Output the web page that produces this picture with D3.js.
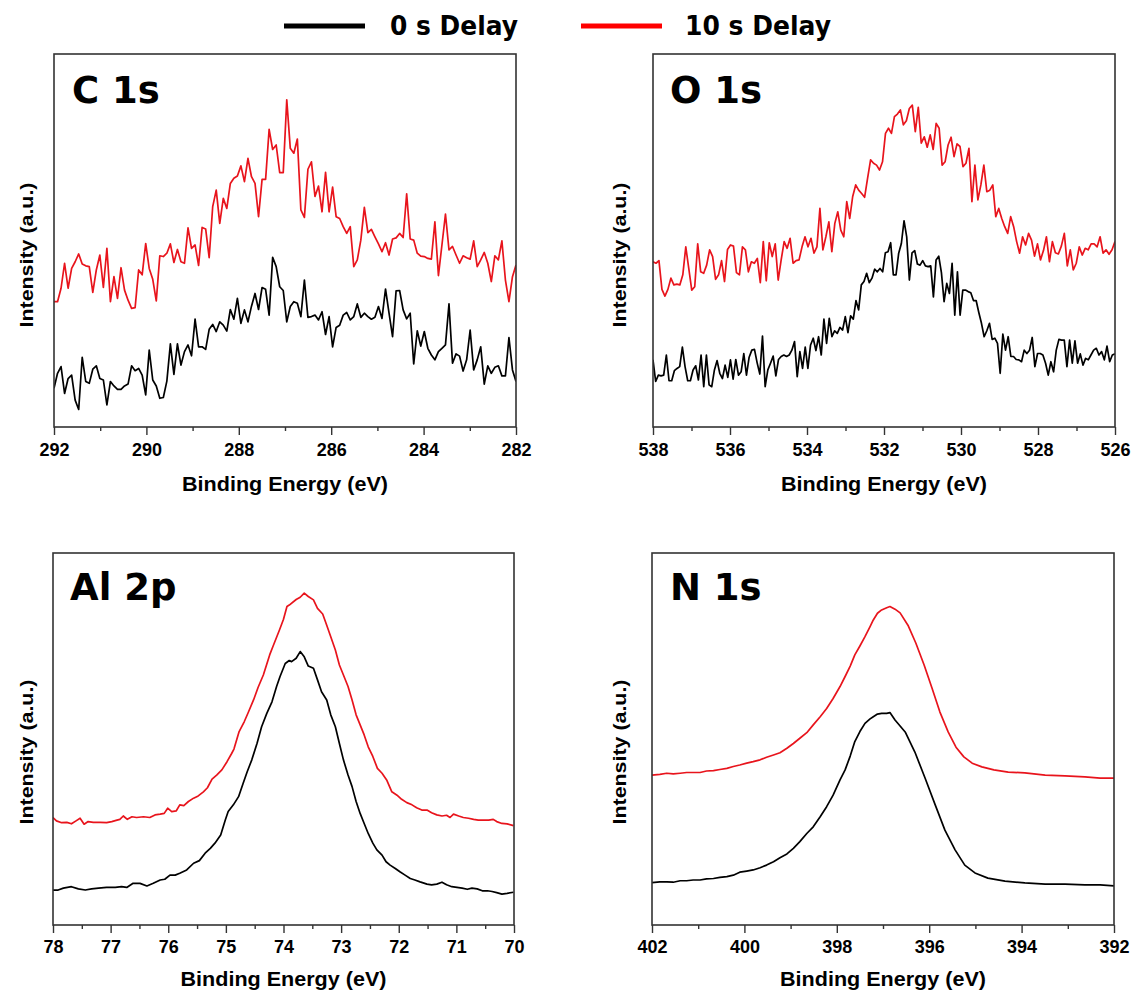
<!DOCTYPE html>
<html>
<head>
<meta charset="utf-8">
<script src="https://cdn.jsdelivr.net/npm/d3@7"></script>
<style>
  body { margin: 0; background: #fff; }
  svg { display: block; }
</style>
</head>
<body>
<svg id="chart" width="1131" height="992"></svg>
<script>
// ---------- data ----------
const seriesNames = ["0 s Delay", "10 s Delay"];
const seriesColors = ["#000000", "#e8141c"];

// C 1s — intensities (a.u.) on an evenly stepped energy grid
const c1sRange = [292, 282];
const c1s_0s = [10.4,14.4,16.2,9.0,13.0,13.9,7.2,4.7,18.7,12.2,11.7,15.5,16.4,13.0,12.6,5.9,12.2,11.0,10.1,10.1,11.0,11.5,16.4,15.1,15.7,13.9,8.6,20.6,12.6,11.0,7.7,7.9,12.3,22.3,14.1,22.3,16.6,20.2,22.0,19.1,28.9,21.5,21.5,20.8,26.2,27.5,25.6,28.2,27.3,25.7,31.5,28.9,34.5,27.8,31.4,28.2,32.4,35.8,31.5,37.4,36.9,30.0,45.5,43.0,37.6,36.6,28.2,
  32.3,33.6,33.2,29.6,39.4,29.4,29.6,30.0,28.7,30.9,24.8,29.6,21.5,26.7,27.3,30.0,30.7,28.7,29.6,33.0,29.4,30.5,29.6,28.9,29.4,32.3,29.1,37.0,30.5,24.2,36.5,36.6,31.4,29.0,30.5,16.9,25.8,21.7,25.6,21.1,19.3,18.0,20.2,21.1,22.0,33.0,17.1,19.6,19.0,15.0,18.0,26.0,15.3,18.0,21.5,11.5,16.4,14.4,16.0,16.4,13.7,13.7,24.0,15.3,12.2];
const c1s_10s = [33.6,33.6,37.2,43.9,37.2,42.5,44.3,46.4,43.7,43.2,43.0,36.1,42.1,46.1,37.4,47.9,33.6,40.3,34.5,42.7,36.7,34.0,31.8,32.0,42.1,40.8,49.2,42.5,39.6,33.8,45.9,45.7,46.6,49.1,44.1,47.6,44.3,43.9,53.4,47.9,48.8,43.3,53.5,53.1,45.4,59.1,63.5,54.6,61.3,58.6,65.3,66.7,67.3,70.0,65.8,72.0,67.1,65.3,56.4,66.4,66.4,79.8,74.4,75.6,68.2,68.2,87.7,
  74.7,73.4,77.2,58.2,56.2,69.1,71.1,61.8,64.6,57.7,68.3,57.7,64.3,56.4,55.9,53.7,51.9,53.7,43.0,44.8,50.1,58.9,52.1,53.0,51.0,49.1,47.0,49.4,46.1,50.4,50.7,51.9,50.8,62.5,50.4,50.1,46.6,45.8,45.7,45.2,45.0,55.0,40.6,48.8,57.1,47.5,48.4,46.1,43.9,45.9,45.4,45.0,49.9,43.0,44.8,46.8,43.9,39.0,45.9,44.8,49.9,39.4,33.6,40.3,43.4];

// O 1s — intensities (a.u.) on an evenly stepped energy grid
const o1sRange = [538, 526];
const o1s_0s = [18.0,12.2,13.9,13.7,13.9,19.3,12.4,12.4,15.1,15.7,16.2,21.4,16.2,12.4,12.4,15.3,16.4,12.6,19.3,10.8,19.3,11.3,10.8,15.3,17.8,14.4,13.0,16.6,13.3,18.0,12.8,18.1,13.9,14.8,19.7,13.9,18.7,20.6,20.8,17.2,14.2,24.4,10.8,15.3,17.1,19.0,13.7,18.1,18.9,19.3,18.9,19.3,20.6,22.9,13.5,20.2,15.7,21.4,15.7,22.0,23.8,20.5,24.2,19.3,28.9,22.4,29.1,24.2,25.8,25.1,26.7,26.0,29.6,25.3,29.8,28.9,33.9,31.4,38.1,39.0,41.2,38.7,39.9,42.3,41.6,42.5,41.6,46.7,47.0,
  49.4,40.8,40.8,46.6,49.2,55.3,51.0,39.4,46.7,47.3,43.7,43.4,44.6,43.2,43.0,43.2,34.9,44.8,45.8,41.4,33.6,38.5,35.8,43.9,30.0,41.6,30.0,36.7,36.7,36.3,36.0,33.9,33.9,30.7,27.8,24.2,25.8,27.8,23.5,23.8,22.4,14.4,24.9,20.6,24.2,18.9,18.9,18.1,18.0,17.5,20.6,19.7,20.6,24.0,16.2,19.7,19.7,19.3,17.1,13.9,17.5,14.8,20.6,23.5,23.3,23.3,16.2,23.3,17.1,23.1,17.1,19.6,16.6,18.4,18.0,19.3,20.6,21.1,19.3,20.2,18.0,21.7,17.5,19.3,19.6];
const o1s_10s = [44.3,43.9,44.6,36.9,35.1,36.9,39.9,38.1,38.3,38.1,40.8,48.3,42.5,36.7,37.6,49.1,41.6,41.2,43.4,47.5,45.7,39.6,40.8,44.6,39.0,47.6,48.8,48.5,41.4,40.8,48.3,47.5,41.6,44.3,43.9,45.2,38.7,49.7,39.2,49.4,45.7,49.1,39.4,44.8,49.7,47.9,50.6,43.9,44.6,44.8,48.3,51.0,48.3,50.6,46.6,48.3,58.6,47.5,51.0,55.0,47.0,54.6,57.7,52.8,51.0,60.4,55.9,61.8,64.9,63.5,62.6,61.6,66.7,71.6,70.7,70.2,
  68.9,71.1,78.7,80.1,78.7,83.2,83.9,85.0,81.0,82.1,85.4,86.3,79.2,85.7,76.1,77.8,75.0,78.3,74.4,81.4,80.1,70.2,71.1,75.6,77.7,72.5,75.9,75.2,69.8,70.7,74.7,60.4,70.2,60.9,64.9,70.2,63.1,63.5,64.9,56.4,58.6,55.9,53.7,51.9,56.4,53.7,49.7,46.6,51.0,48.8,51.9,50.1,45.8,49.1,44.8,47.3,51.0,44.3,49.7,46.7,46.4,48.5,51.9,43.2,47.5,42.1,43.9,48.3,46.1,47.9,47.5,49.1,49.1,48.3,51.0,46.6,47.5,46.3,47.5,49.7];

// Al 2p — [binding energy (eV), intensity (a.u.)]
const al2p_0s = [[78.00,9.4],[77.91,9.4],[77.82,9.9],[77.68,10.3],[77.56,9.7],[77.44,9.4],[77.33,9.7],[77.21,9.9],[77.07,10.1],[76.92,10.1],[76.81,10.3],[76.72,10.1],[76.61,11.2],[76.49,11.2],[76.37,10.5],[76.26,11.2],[76.14,12.1],[76.06,12.3],[75.97,13.4],[75.88,13.4],[75.80,13.9],[75.68,14.8],[75.56,16.6],[75.46,17.3],[75.36,19.3],[75.27,20.6],[75.19,22.0],[75.09,24.2],[75.01,28.2],[74.96,30.5],[74.87,32.3],[74.78,34.5],[74.70,38.1],[74.63,41.2],[74.55,44.4],[74.46,48.8],[74.38,53.3],[74.29,56.9],[74.20,60.0],[74.12,64.1],[74.06,66.8],[73.97,70.3],[73.90,71.1],[73.86,70.8],[73.78,71.7],[73.71,73.5],[73.64,72.1],[73.57,69.6],[73.48,69.0],[73.41,65.9],[73.34,62.7],[73.25,60.5],[73.18,56.5],[73.10,53.3],[73.03,48.8],[72.96,44.4],[72.88,40.3],[72.81,37.2],[72.74,33.2],[72.67,30.0],[72.60,27.3],[72.53,24.6],[72.45,22.0],[72.38,20.2],[72.29,18.8],[72.22,17.0],[72.15,16.1],[72.06,15.2],[71.98,14.3],[71.89,13.4],[71.80,12.5],[71.72,12.1],[71.63,11.6],[71.51,11.0],[71.43,10.8],[71.34,11.0],[71.25,11.5],[71.17,10.8],[71.08,10.3],[70.99,10.1],[70.90,9.9],[70.81,9.6],[70.73,9.9],[70.64,9.7],[70.55,9.2],[70.46,9.2],[70.38,9.0],[70.30,8.7],[70.21,8.3],[70.12,8.5],[70.01,8.8]];
const al2p_10s = [[78.00,28.9],[77.94,28.0],[77.85,27.5],[77.76,27.6],[77.68,27.2],[77.60,28.0],[77.53,28.7],[77.46,27.1],[77.39,27.8],[77.30,27.6],[77.18,27.6],[77.07,27.5],[76.98,27.8],[76.89,28.2],[76.84,28.4],[76.78,29.3],[76.71,28.4],[76.63,29.1],[76.55,28.9],[76.43,29.1],[76.32,28.9],[76.23,29.6],[76.14,29.8],[76.07,30.0],[76.01,31.4],[75.94,30.5],[75.86,30.7],[75.80,32.3],[75.73,32.1],[75.65,33.2],[75.56,34.1],[75.48,34.7],[75.39,35.8],[75.32,36.9],[75.24,39.2],[75.16,40.3],[75.07,41.7],[74.98,43.9],[74.90,46.1],[74.86,47.3],[74.77,52.0],[74.68,54.7],[74.61,57.2],[74.52,60.5],[74.44,63.9],[74.35,67.2],[74.24,72.6],[74.18,75.0],[74.07,79.3],[74.00,82.2],[73.94,85.6],[73.90,86.0],[73.78,87.5],[73.71,88.1],[73.64,89.2],[73.57,88.3],[73.48,87.4],[73.41,85.1],[73.32,83.6],[73.25,80.6],[73.18,77.5],[73.10,73.9],[73.03,69.9],[72.96,67.2],[72.88,64.1],[72.81,60.5],[72.74,56.5],[72.67,53.8],[72.60,51.1],[72.53,47.9],[72.45,45.3],[72.37,42.1],[72.29,40.8],[72.21,39.0],[72.12,35.8],[72.03,34.9],[71.95,33.8],[71.86,32.9],[71.77,32.3],[71.69,31.5],[71.60,30.9],[71.51,30.9],[71.43,30.2],[71.34,29.6],[71.25,29.3],[71.17,29.5],[71.11,28.9],[71.05,29.8],[70.96,29.3],[70.88,28.9],[70.79,28.7],[70.70,28.4],[70.62,28.2],[70.53,28.2],[70.44,28.2],[70.36,28.4],[70.30,27.8],[70.21,27.3],[70.12,27.2],[70.01,26.7]];

// N 1s — [binding energy (eV), intensity (a.u.)]
const n1s_0s = [[402.0,11.4],[401.83,11.6],[401.68,11.6],[401.54,11.5],[401.39,11.9],[401.25,11.9],[401.11,12.1],[400.96,12.1],[400.82,12.4],[400.67,12.5],[400.53,12.8],[400.38,13.0],[400.24,13.4],[400.10,14.2],[399.95,14.5],[399.81,14.8],[399.66,15.4],[399.52,16.1],[399.37,17.0],[399.23,18.1],[399.08,19.1],[398.94,20.6],[398.80,22.4],[398.65,24.6],[398.51,26.4],[398.36,29.1],[398.22,31.8],[398.08,34.9],[397.93,39.0],[397.82,41.7],[397.71,45.4],[397.61,49.3],[397.50,52.0],[397.39,54.2],[397.28,55.4],[397.21,56.0],[397.12,56.7],[397.03,56.9],[396.92,56.9],[396.85,57.1],[396.74,55.1],[396.52,51.9],[396.31,46.5],[396.09,39.5],[395.87,32.3],[395.66,25.5],[395.44,20.2],[395.23,16.1],[395.01,14.0],[394.73,12.6],[394.36,11.8],[393.93,11.3],[393.49,11.0],[393.06,11.0],[392.63,10.8],[392.30,10.8],[392.00,10.5]];
const n1s_10s = [[402.0,40.3],[401.83,40.5],[401.68,40.8],[401.54,40.6],[401.39,40.8],[401.25,41.0],[401.11,41.0],[400.96,41.0],[400.82,41.4],[400.67,41.5],[400.53,41.8],[400.38,42.1],[400.24,42.6],[400.10,43.0],[399.95,43.5],[399.81,43.9],[399.66,44.4],[399.52,45.1],[399.37,45.7],[399.23,46.3],[399.08,47.5],[398.94,48.8],[398.80,50.2],[398.65,51.7],[398.51,53.8],[398.36,56.0],[398.22,58.2],[398.08,60.9],[397.93,64.1],[397.82,66.8],[397.71,69.6],[397.61,72.6],[397.50,75.0],[397.39,77.5],[397.28,80.2],[397.21,82.0],[397.12,83.8],[397.03,84.7],[396.92,85.3],[396.85,85.6],[396.74,84.9],[396.63,83.9],[396.46,80.6],[396.29,75.8],[396.11,69.9],[395.94,63.7],[395.77,57.3],[395.59,51.9],[395.42,47.8],[395.25,45.2],[395.07,43.5],[394.86,42.5],[394.60,41.7],[394.29,41.1],[393.93,40.9],[393.49,40.3],[393.06,40.1],[392.63,39.8],[392.30,39.5],[392.00,39.5]];

// tick labels
const c1sTicks = [292, 290, 288, 286, 284, 282];
const o1sTicks = [538, 536, 534, 532, 530, 528, 526];
const al2pTicks = [78, 77, 76, 75, 74, 73, 72, 71, 70];
const n1sTicks = [402, 400, 398, 396, 394, 392];

// ---------- helpers ----------
function onGrid(range, values) {
  const step = (range[1] - range[0]) / (values.length - 1);
  return values.map((v, i) => [range[0] + i * step, v]);
}
function minorsBetween(ticks) {
  const out = [];
  for (let i = 0; i < ticks.length - 1; i++) out.push((ticks[i] + ticks[i + 1]) / 2);
  return out;
}

const panels = [
  { title: "C 1s", domain: c1sRange, ticks: c1sTicks,
    series: [onGrid(c1sRange, c1s_0s), onGrid(c1sRange, c1s_10s)],
    box: { x: 54, y: 54, w: 462, h: 373 }, titlePos: [72, 103], labelGap: 16, axisTitleY: 491, yTitle: [33, 255] },
  { title: "O 1s", domain: o1sRange, ticks: o1sTicks,
    series: [onGrid(o1sRange, o1s_0s), onGrid(o1sRange, o1s_10s)],
    box: { x: 653, y: 54, w: 462, h: 373 }, titlePos: [670, 103], labelGap: 16, axisTitleY: 491, yTitle: [626, 255] },
  { title: "Al 2p", domain: [78, 70], ticks: al2pTicks,
    series: [al2p_0s, al2p_10s],
    box: { x: 53, y: 553, w: 461, h: 372 }, titlePos: [70, 600], labelGap: 15, axisTitleY: 986, yTitle: [33, 752] },
  { title: "N 1s", domain: [402, 392], ticks: n1sTicks,
    series: [n1s_0s, n1s_10s],
    box: { x: 652, y: 553, w: 462, h: 372 }, titlePos: [670, 600], labelGap: 15, axisTitleY: 986, yTitle: [626, 752] }
];

const svg = d3.select("#chart");
const axisFont = "'Liberation Sans', Arial, sans-serif";
const titleFont = "'DejaVu Sans', Verdana, sans-serif";
const frameColor = "#333";

panels.forEach((p, pi) => {
  const b = p.box;
  const x = d3.scaleLinear().domain(p.domain).range([b.x, b.x + b.w]);
  const y = d3.scaleLinear().domain([0, 100]).range([b.y + b.h, b.y]);

  const clipId = "clip" + pi;
  svg.append("clipPath").attr("id", clipId)
    .append("rect").attr("x", b.x).attr("y", b.y).attr("width", b.w).attr("height", b.h);

  // data lines
  const line = d3.line().x(d => x(d[0])).y(d => y(d[1]));
  const g = svg.append("g").attr("clip-path", `url(#${clipId})`);
  p.series.forEach((s, si) => {
    g.append("path").datum(s)
      .attr("d", line)
      .attr("fill", "none")
      .attr("stroke", seriesColors[si])
      .attr("stroke-width", 1.7)
      .attr("stroke-linejoin", "round");
  });

  // frame
  svg.append("rect")
    .attr("x", b.x).attr("y", b.y).attr("width", b.w).attr("height", b.h)
    .attr("fill", "none").attr("stroke", frameColor).attr("stroke-width", 1.6);

  // minor ticks
  const minorAxis = d3.axisBottom(x).tickValues(minorsBetween(p.ticks)).tickSize(4).tickFormat("");
  const gm = svg.append("g").attr("transform", `translate(0,${b.y + b.h})`).call(minorAxis);
  gm.select(".domain").remove();
  gm.selectAll("line").attr("stroke", frameColor).attr("stroke-width", 1.4);

  // major ticks + labels
  const majorAxis = d3.axisBottom(x).tickValues(p.ticks).tickSize(8)
    .tickPadding(p.labelGap - 8).tickFormat(d3.format("d"));
  const ga = svg.append("g").attr("transform", `translate(0,${b.y + b.h})`).call(majorAxis);
  ga.select(".domain").remove();
  ga.selectAll("line").attr("stroke", frameColor).attr("stroke-width", 1.4);
  ga.selectAll("text")
    .attr("fill", "#000")
    .style("font-family", axisFont)
    .style("font-weight", "bold")
    .style("font-size", "18px");

  // x-axis title
  svg.append("text")
    .attr("x", b.x + b.w / 2).attr("y", p.axisTitleY)
    .attr("text-anchor", "middle")
    .attr("textLength", 206).attr("lengthAdjust", "spacingAndGlyphs")
    .style("font-family", axisFont).style("font-weight", "bold").style("font-size", "19.5px")
    .attr("fill", "#000")
    .text("Binding Energy (eV)");

  // y-axis title
  svg.append("text")
    .attr("transform", `translate(${p.yTitle[0]},${p.yTitle[1]}) rotate(-90)`)
    .attr("text-anchor", "middle")
    .attr("textLength", 145).attr("lengthAdjust", "spacingAndGlyphs")
    .style("font-family", axisFont).style("font-weight", "bold").style("font-size", "18px")
    .attr("fill", "#000")
    .text("Intensity (a.u.)");

  // panel title
  svg.append("text")
    .attr("x", p.titlePos[0]).attr("y", p.titlePos[1])
    .style("font-family", titleFont).style("font-weight", "bold").style("font-size", "37px")
    .attr("fill", "#000")
    .text(p.title);
});

// legend
const legendItems = [
  { name: seriesNames[0], color: seriesColors[0], x0: 284, x1: 365, tx: 390, len: 128 },
  { name: seriesNames[1], color: "#ff0000", x0: 581, x1: 662, tx: 685, len: 146 }
];
legendItems.forEach(it => {
  svg.append("line")
    .attr("x1", it.x0).attr("x2", it.x1).attr("y1", 26).attr("y2", 26)
    .attr("stroke", it.color).attr("stroke-width", 5);
  svg.append("text")
    .attr("x", it.tx).attr("y", 35)
    .attr("textLength", it.len).attr("lengthAdjust", "spacingAndGlyphs")
    .style("font-family", titleFont).style("font-weight", "bold").style("font-size", "26px")
    .attr("fill", "#000")
    .text(it.name);
});
</script>
</body>
</html>
